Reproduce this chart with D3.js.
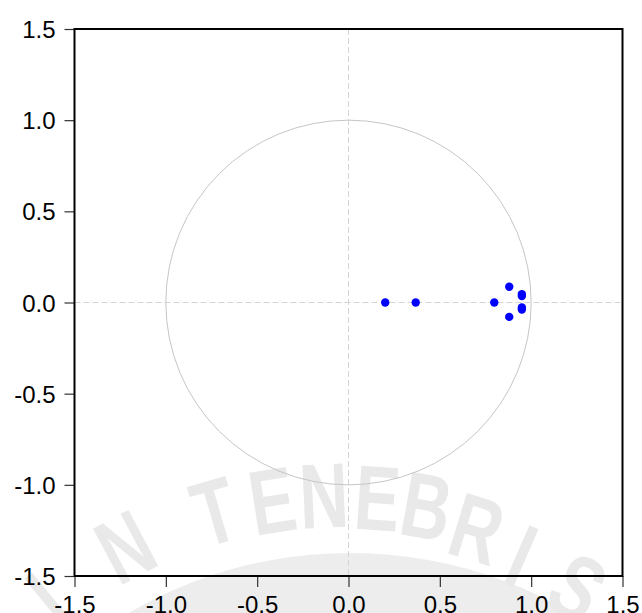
<!DOCTYPE html>
<html>
<head>
<meta charset="utf-8">
<script src="https://cdn.jsdelivr.net/npm/d3@7/dist/d3.min.js"></script>
<style>
  html, body { margin: 0; padding: 0; background: #fff; }
  svg { display: block; }
</style>
</head>
<body>
<svg id="chart" width="642" height="613"></svg>
<script>
// Inverse roots of the AR characteristic polynomial
const rootRe = [0.201, 0.368, 0.798, 0.880, 0.880, 0.949, 0.949, 0.949, 0.949];
const rootIm = [0.000, 0.000, 0.000, 0.086, -0.079, 0.046, 0.035, -0.027, -0.038];

// Axis ticks (shared by both axes)
const tickValues = [-1.5, -1.0, -0.5, 0.0, 0.5, 1.0, 1.5];
const tickLabels = ["-1.5", "-1.0", "-0.5", "0.0", "0.5", "1.0", "1.5"];

const svg = d3.select("#chart");
const plotL = 74.5, plotR = 622.5, plotT = 29, plotB = 576;

const x = d3.scaleLinear().domain([-1.5, 1.5]).range([plotL, plotR]);
const y = d3.scaleLinear().domain([-1.5, 1.5]).range([plotB, plotT]);

// Background watermark: a pale dome with a motto set around an arc
const wm = svg.append("g").attr("fill", "#e9e9e9");
wm.append("ellipse")
  .attr("cx", 350).attr("cy", 553 + 360)
  .attr("rx", 400).attr("ry", 360)
  .attr("fill", "#ededed");
const wcx = 345, wcy = 960;
const motto = [
  { ch: "I", deg: -39.5, r: 468 },
  { ch: "N", deg: -28.0, r: 469 },
  { ch: "T", deg: -16.2, r: 468 },
  { ch: "E", deg: -9.0,  r: 466 },
  { ch: "N", deg: -2.6,  r: 466 },
  { ch: "E", deg: 4.0,   r: 464 },
  { ch: "B", deg: 10.2,  r: 462 },
  { ch: "R", deg: 17.0,  r: 452 },
  { ch: "I", deg: 23.6,  r: 442 },
  { ch: "S", deg: 32.0,  r: 440 }
];
wm.selectAll("g.letter")
  .data(motto)
  .join("g")
  .attr("class", "letter")
  .attr("transform", d => {
    const a = d.deg * Math.PI / 180;
    const px = wcx + d.r * Math.sin(a), py = wcy - d.r * Math.cos(a);
    return `translate(${px},${py}) rotate(${d.deg}) scale(0.74,1)`;
  })
  .append("text")
  .attr("text-anchor", "middle")
  .attr("dy", "0.36em")
  .attr("font-family", "'Liberation Sans', Arial, sans-serif")
  .attr("font-weight", "bold")
  .attr("font-size", 92)
  .text(d => d.ch);

// Reference lines through the origin
const grid = svg.append("g")
  .attr("stroke", "#d4d4d4")
  .attr("stroke-width", 1)
  .attr("stroke-dasharray", "6,3");
grid.append("line")
  .attr("x1", plotL).attr("x2", plotR)
  .attr("y1", y(0)).attr("y2", y(0));
grid.append("line")
  .attr("x1", x(0)).attr("x2", x(0))
  .attr("y1", plotT).attr("y2", plotB);

// Unit circle
svg.append("ellipse")
  .attr("cx", x(0)).attr("cy", y(0))
  .attr("rx", x(1) - x(0)).attr("ry", y(0) - y(1))
  .attr("fill", "none")
  .attr("stroke", "#c6c6c6")
  .attr("stroke-width", 1);

// Roots
svg.append("g")
  .selectAll("circle")
  .data(rootRe.map((re, i) => ({ re, im: rootIm[i] })))
  .join("circle")
  .attr("cx", d => x(d.re))
  .attr("cy", d => y(d.im))
  .attr("r", 4.2)
  .attr("fill", "#0000ff");

// Axes
const font = "'Liberation Sans', Arial, sans-serif";
const yAxis = svg.append("g")
  .attr("transform", `translate(${plotL},0)`)
  .call(d3.axisLeft(y).tickValues(tickValues)
    .tickFormat((d, i) => tickLabels[i]).tickSize(10).tickPadding(9));
const xAxis = svg.append("g")
  .attr("transform", `translate(0,${plotB})`)
  .call(d3.axisBottom(x).tickValues(tickValues)
    .tickFormat((d, i) => tickLabels[i]).tickSize(11));

[yAxis, xAxis].forEach(a => {
  a.select(".domain").remove();
  a.selectAll(".tick line").attr("stroke", "#333").attr("stroke-width", 1.2);
  a.selectAll(".tick text")
    .attr("fill", "#000")
    .attr("font-family", font)
    .attr("font-size", 24);
});
yAxis.selectAll(".tick text").attr("dy", "0.36em");
xAxis.selectAll(".tick text").attr("y", 36.5).attr("dy", 0);

// Plot frame
svg.append("rect")
  .attr("x", plotL).attr("y", plotT)
  .attr("width", plotR - plotL).attr("height", plotB - plotT)
  .attr("fill", "none")
  .attr("stroke", "#000")
  .attr("stroke-width", 2);
</script>
</body>
</html>
